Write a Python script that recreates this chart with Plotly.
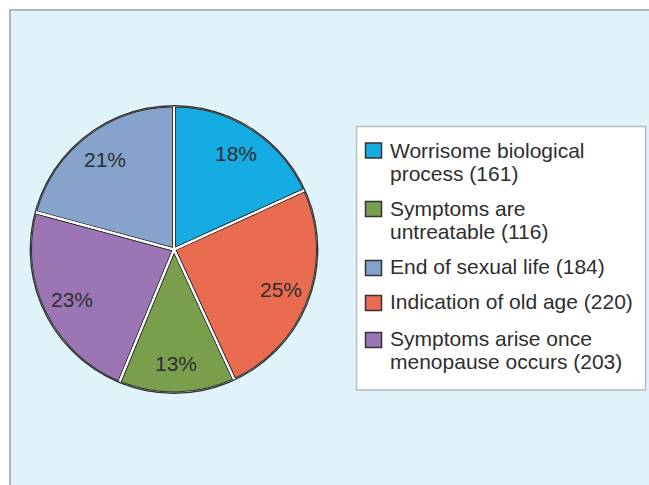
import plotly.graph_objects as go
import math

# ---------------- data ----------------
pie_labels = ["Worrisome biological process", "Indication of old age", "Symptoms are untreatable",
              "Symptoms arise once menopause occurs", "End of sexual life"]
pie_values = [161, 220, 116, 203, 184]
pie_colors = ["#14ACE3", "#E96C50", "#7A9F4C", "#9C76B4", "#86A3CB"]

legend_lines = [["Worrisome biological", "process (161)"],
                ["Symptoms are", "untreatable (116)"],
                ["End of sexual life (184)"],
                ["Indication of old age (220)"],
                ["Symptoms arise once", "menopause occurs (203)"]]
legend_colors = ["#14ACE3", "#7A9F4C", "#86A3CB", "#E96C50", "#9C76B4"]

# ---------------- layout constants ----------------
W, H = 649, 485
BG = "#E0F2FA"
TXT = "#2E2E2E"
FONT = "Liberation Sans, Arial, sans-serif"
cx, cy, R = 174, 249.5, 144


def px(x):
    return x / W


def py(y):
    return 1 - y / H


def dom(r):
    return dict(x=[px(cx - r), px(cx + r)], y=[py(cy + r), py(cy - r)])


fig = go.Figure()

# base pie with dark outlines
fig.add_trace(go.Pie(labels=pie_labels, values=pie_values, sort=False, direction="clockwise",
                     rotation=0, domain=dom(R), textinfo="none", hoverinfo="label+value+percent",
                     marker=dict(colors=pie_colors, line=dict(color="#333333", width=4)),
                     showlegend=False))
# white gap lines
fig.add_trace(go.Pie(labels=pie_labels, values=pie_values, sort=False, direction="clockwise",
                     rotation=0, domain=dom(R), textinfo="none", hoverinfo="skip",
                     marker=dict(colors=["rgba(0,0,0,0)"] * len(pie_values),
                                 line=dict(color="white", width=2)),
                     showlegend=False))
# outer dark edge
fig.add_trace(go.Pie(labels=["edge"], values=[1], sort=False, domain=dom(R), textinfo="none",
                     hoverinfo="skip",
                     marker=dict(colors=["rgba(0,0,0,0)"], line=dict(color="#333333", width=2)),
                     showlegend=False))
# mask outside the edge
Rm = R + 4
fig.add_trace(go.Pie(labels=["mask"], values=[1], sort=False, domain=dom(Rm), hole=(R + 0.4) / Rm,
                     textinfo="none", hoverinfo="skip",
                     marker=dict(colors=[BG], line=dict(width=0)), showlegend=False))

# percentage labels computed from data
total = sum(pie_values)
annotations = []
cum = 0
for v in pie_values:
    mid = (cum + v / 2) / total * 2 * math.pi
    cum += v
    rho = 0.79 * R
    x = cx + rho * math.sin(mid)
    y = cy - rho * math.cos(mid)
    annotations.append(dict(x=px(x), y=py(y), xref="paper", yref="paper", showarrow=False,
                            text=f"{round(v / total * 100)}%", xanchor="center", yanchor="middle",
                            font=dict(family=FONT, size=21, color=TXT)))

shapes = [
    # frame
    dict(type="rect", xref="paper", yref="paper", x0=px(10), x1=px(720), y0=py(10), y1=py(560),
         fillcolor=BG, line=dict(color="#B3B3B3", width=2), layer="below"),
    # legend box
    dict(type="rect", xref="paper", yref="paper", x0=px(356.5), x1=px(645.5), y0=py(126.5), y1=py(390),
         fillcolor="white", line=dict(color="#BBBBBB", width=1.5), layer="below"),
]

sq_centers = [150.5, 209, 268, 303, 340]
line_centers = [[150, 173], [208, 231], [266], [301], [338, 361]]
for col, yc, lines, lcs in zip(legend_colors, sq_centers, legend_lines, line_centers):
    shapes.append(dict(type="rect", xref="paper", yref="paper", x0=px(365.5), x1=px(381.5),
                       y0=py(yc + 7.5), y1=py(yc - 7.5), fillcolor=col,
                       line=dict(color="#333333", width=1.5), layer="above"))
    for t, ly in zip(lines, lcs):
        annotations.append(dict(x=px(388), y=py(ly), xref="paper", yref="paper", showarrow=False,
                                text=t, xanchor="left", yanchor="middle",
                                font=dict(family=FONT, size=21, color=TXT)))

fig.update_layout(width=W, height=H, margin=dict(l=0, r=0, t=0, b=0),
                  paper_bgcolor="white", plot_bgcolor="white",
                  shapes=shapes, annotations=annotations, showlegend=False)

fig.write_html("out.html", config={"displayModeBar": False},
               post_script="document.body.style.margin='0';document.body.style.overflow='hidden';")
